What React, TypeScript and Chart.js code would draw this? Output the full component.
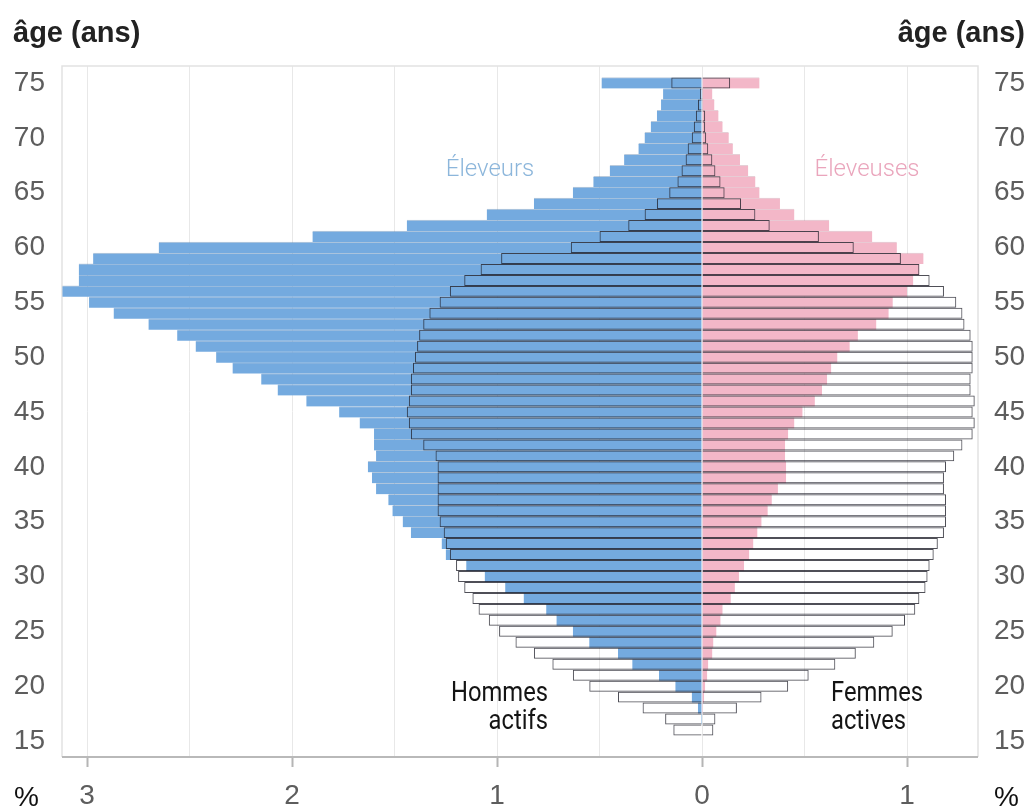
import React, { useEffect, useRef } from "react";
import { Chart, registerables } from "chart.js";

Chart.register(...registerables);

// Ages (years)
const ages = [15, 16, 17, 18, 19, 20, 21, 22, 23, 24, 25, 26, 27, 28, 29, 30, 31, 32, 33, 34, 35, 36, 37, 38, 39, 40, 41, 42, 43, 44, 45, 46, 47, 48, 49, 50, 51, 52, 53, 54, 55, 56, 57, 58, 59, 60, 61, 62, 63, 64, 65, 66, 67, 68, 69, 70, 71, 72, 73, 74, 75];

// Share of each age (%), male farmers (drawn on the left)
const eleveurs = [0, 0, 0.005, 0.02, 0.05, 0.13, 0.21, 0.34, 0.41, 0.55, 0.63, 0.71, 0.76, 0.87, 0.96, 1.06, 1.15, 1.25, 1.27, 1.42, 1.46, 1.51, 1.53, 1.59, 1.61, 1.63, 1.59, 1.6, 1.6, 1.67, 1.77, 1.93, 2.07, 2.15, 2.29, 2.37, 2.47, 2.56, 2.7, 2.87, 2.99, 3.12, 3.04, 3.04, 2.97, 2.65, 1.9, 1.44, 1.05, 0.82, 0.63, 0.53, 0.45, 0.38, 0.31, 0.28, 0.25, 0.22, 0.2, 0.19, 0.49];

// Female farmers (right)
const eleveuses = [0, 0, 0, 0.005, 0.01, 0.015, 0.025, 0.03, 0.05, 0.055, 0.07, 0.09, 0.1, 0.14, 0.16, 0.18, 0.205, 0.23, 0.25, 0.27, 0.29, 0.32, 0.34, 0.37, 0.41, 0.41, 0.405, 0.405, 0.42, 0.45, 0.49, 0.55, 0.585, 0.61, 0.63, 0.66, 0.72, 0.76, 0.85, 0.91, 0.93, 1.0, 1.03, 1.06, 1.08, 0.95, 0.83, 0.62, 0.45, 0.38, 0.28, 0.26, 0.225, 0.185, 0.15, 0.13, 0.1, 0.08, 0.06, 0.05, 0.28];

// Active men (outline, left)
const hommesActifs = [0, 0.14, 0.18, 0.29, 0.41, 0.55, 0.63, 0.73, 0.82, 0.91, 0.99, 1.04, 1.09, 1.12, 1.16, 1.19, 1.2, 1.23, 1.25, 1.26, 1.28, 1.29, 1.29, 1.29, 1.29, 1.29, 1.3, 1.36, 1.42, 1.43, 1.44, 1.43, 1.42, 1.42, 1.41, 1.4, 1.39, 1.38, 1.36, 1.33, 1.28, 1.23, 1.16, 1.08, 0.98, 0.64, 0.5, 0.36, 0.28, 0.22, 0.16, 0.12, 0.1, 0.08, 0.07, 0.05, 0.04, 0.03, 0.02, 0.01, 0.15];

// Active women (outline, right)
const femmesActives = [0, 0.055, 0.065, 0.17, 0.29, 0.42, 0.52, 0.65, 0.75, 0.84, 0.93, 0.99, 1.04, 1.06, 1.09, 1.1, 1.11, 1.13, 1.15, 1.18, 1.19, 1.19, 1.19, 1.18, 1.18, 1.19, 1.23, 1.27, 1.32, 1.33, 1.32, 1.33, 1.31, 1.31, 1.32, 1.32, 1.32, 1.31, 1.28, 1.27, 1.24, 1.18, 1.11, 1.06, 0.97, 0.74, 0.57, 0.33, 0.26, 0.19, 0.11, 0.09, 0.065, 0.05, 0.03, 0.02, 0.015, 0.015, 0.005, 0.005, 0.137];

const xTickValues = [-3, -2.5, -2, -1.5, -1, -0.5, 0, 0.5, 1];
const yTickValues = [15, 20, 25, 30, 35, 40, 45, 50, 55, 60, 65, 70, 75];

const X_MIN = -3.122;
const X_MAX = 1.346;
const Y_MIN = 13.54;
const Y_MAX = 76.55;

const BLUE = "#74aadf";
const PINK = "#f3b7c8";
const OUTLINE = "rgba(30,30,40,0.78)";
const TICK_COLOR = "#5d5d5d";
const TICK_FONT = { family: '"Liberation Sans", Arial, sans-serif', size: 28 };

function drawText(
  ctx: CanvasRenderingContext2D,
  s: string,
  x: number,
  y: number,
  font: string,
  color: string,
  align: CanvasTextAlign,
  sx = 1
) {
  ctx.save();
  ctx.font = font;
  ctx.fillStyle = color;
  ctx.textAlign = align;
  ctx.textBaseline = "alphabetic";
  ctx.translate(x, y);
  ctx.scale(sx, 1);
  ctx.fillText(s, 0, 0);
  ctx.restore();
}

const annotations = {
  id: "annotations",
  beforeDatasetsDraw(chart: any) {
    const { ctx, chartArea: a } = chart;
    ctx.save();
    ctx.strokeStyle = "#e2e2e2";
    ctx.lineWidth = 1.5;
    ctx.beginPath();
    ctx.moveTo(a.left, a.bottom);
    ctx.lineTo(a.left, a.top);
    ctx.lineTo(a.right, a.top);
    ctx.lineTo(a.right, a.bottom);
    ctx.stroke();
    ctx.restore();
  },
  afterDraw(chart: any) {
    const { ctx, chartArea: a } = chart;
    ctx.save();
    ctx.strokeStyle = "#b9b9b9";
    ctx.lineWidth = 2;
    ctx.beginPath();
    ctx.moveTo(a.left, a.bottom);
    ctx.lineTo(a.right, a.bottom);
    ctx.stroke();
    ctx.restore();

    const bold = 'bold 29px "Liberation Sans", Arial, sans-serif';
    drawText(ctx, "âge (ans)", 13, 42, bold, "#222", "left");
    drawText(ctx, "âge (ans)", 1025, 42, bold, "#222", "right");
    const pct = '28px "Liberation Sans", Arial, sans-serif';
    drawText(ctx, "%", 14, 806, pct, "#111", "left");
    drawText(ctx, "%", 1019, 806, pct, "#111", "right");

    const light = '300 24px Roboto, "Liberation Sans", sans-serif';
    drawText(ctx, "Éleveurs", 490, 176, light, "#8cb6db", "center");
    drawText(ctx, "Éleveuses", 867, 176, light, "#eaa5bc", "center");

    const cond = '27px Roboto, "Liberation Sans", sans-serif';
    drawText(ctx, "Hommes", 548, 701, cond, "#141414", "right", 0.88);
    drawText(ctx, "actifs", 548, 729, cond, "#141414", "right", 0.88);
    drawText(ctx, "Femmes", 831, 701, cond, "#141414", "left", 0.88);
    drawText(ctx, "actives", 831, 729, cond, "#141414", "left", 0.88);
  },
};

export default function App() {
  const canvasRef = useRef<HTMLCanvasElement | null>(null);

  useEffect(() => {
    const canvas = canvasRef.current;
    if (!canvas) return;

    const barCommon = {
      grouped: false,
      barPercentage: 1,
      categoryPercentage: 1,
      xAxisID: "x",
      yAxisID: "y",
    };

    const chart = new Chart(canvas, {
      type: "bar",
      data: {
        datasets: [
          {
            ...barCommon,
            label: "Hommes actifs",
            data: ages.map((a, i) => ({ x: -hommesActifs[i], y: a })),
            backgroundColor: "rgba(255,255,255,0)",
            borderColor: OUTLINE,
            borderWidth: 1,
            borderSkipped: "start",
            inflateAmount: 0,
            order: 0,
          },
          {
            ...barCommon,
            label: "Femmes actives",
            data: ages.map((a, i) => ({ x: femmesActives[i], y: a })),
            backgroundColor: "rgba(255,255,255,0)",
            borderColor: OUTLINE,
            borderWidth: 1,
            borderSkipped: "start",
            inflateAmount: 0,
            order: 0,
          },
          {
            ...barCommon,
            label: "Éleveurs",
            data: ages.map((a, i) => ({ x: -eleveurs[i], y: a })),
            backgroundColor: BLUE,
            borderColor: "rgba(60,105,155,0.35)",
            borderWidth: { top: 1, bottom: 0, left: 0, right: 0 },
            borderSkipped: false,
            order: 1,
          },
          {
            ...barCommon,
            label: "Éleveuses",
            data: ages.map((a, i) => ({ x: eleveuses[i], y: a })),
            backgroundColor: PINK,
            borderColor: "rgba(170,95,120,0.3)",
            borderWidth: { top: 1, bottom: 0, left: 0, right: 0 },
            borderSkipped: false,
            order: 1,
          },
        ],
      },
      options: {
        responsive: false,
        animation: false,
        indexAxis: "y",
        layout: { padding: { top: 66, left: 0, right: 0, bottom: 0 } },
        plugins: {
          legend: { display: false },
          tooltip: { enabled: false },
          title: { display: false },
        },
        scales: {
          x: {
            type: "linear",
            position: "bottom",
            min: X_MIN,
            max: X_MAX,
            offset: false,
            afterBuildTicks: (s: any) => {
              s.ticks = xTickValues.map((v) => ({ value: v }));
            },
            afterFit: (s: any) => {
              s.height = 53;
            },
            grid: {
              color: "#e8e8e8",
              lineWidth: 1,
              drawTicks: true,
              tickLength: 10,
              tickWidth: 2,
              tickColor: (c: any) =>
                c.tick && Number.isInteger(c.tick.value) ? "#b5b5b5" : "rgba(0,0,0,0)",
            },
            border: { display: false },
            ticks: {
              font: TICK_FONT,
              color: TICK_COLOR,
              padding: 12,
              autoSkip: false,
              maxRotation: 0,
              callback: (v: any) => (Number.isInteger(v) ? String(Math.abs(v)) : ""),
            },
          },
          y: {
            type: "linear",
            position: "left",
            min: Y_MIN,
            max: Y_MAX,
            offset: false,
            afterBuildTicks: (s: any) => {
              s.ticks = yTickValues.map((v) => ({ value: v }));
            },
            afterFit: (s: any) => {
              s.width = 62;
            },
            grid: { display: false, drawTicks: false, offset: false },
            border: { display: false },
            ticks: { font: TICK_FONT, color: TICK_COLOR, padding: 17, autoSkip: false },
          },
          yr: {
            type: "linear",
            position: "right",
            min: Y_MIN,
            max: Y_MAX,
            offset: false,
            afterBuildTicks: (s: any) => {
              s.ticks = yTickValues.map((v) => ({ value: v }));
            },
            afterFit: (s: any) => {
              s.width = 53;
            },
            grid: { display: false, drawTicks: false, offset: false },
            border: { display: false },
            ticks: { font: TICK_FONT, color: TICK_COLOR, padding: 16, autoSkip: false },
          },
        },
      },
      plugins: [annotations],
    } as any);

    return () => {
      chart.destroy();
    };
  }, []);

  return (
    <div
      style={{
        position: "fixed",
        left: 0,
        top: 0,
        width: 1031,
        height: 810,
        background: "#ffffff",
      }}
    >
      <canvas ref={canvasRef} width={1031} height={810} style={{ display: "block" }} />
    </div>
  );
}
